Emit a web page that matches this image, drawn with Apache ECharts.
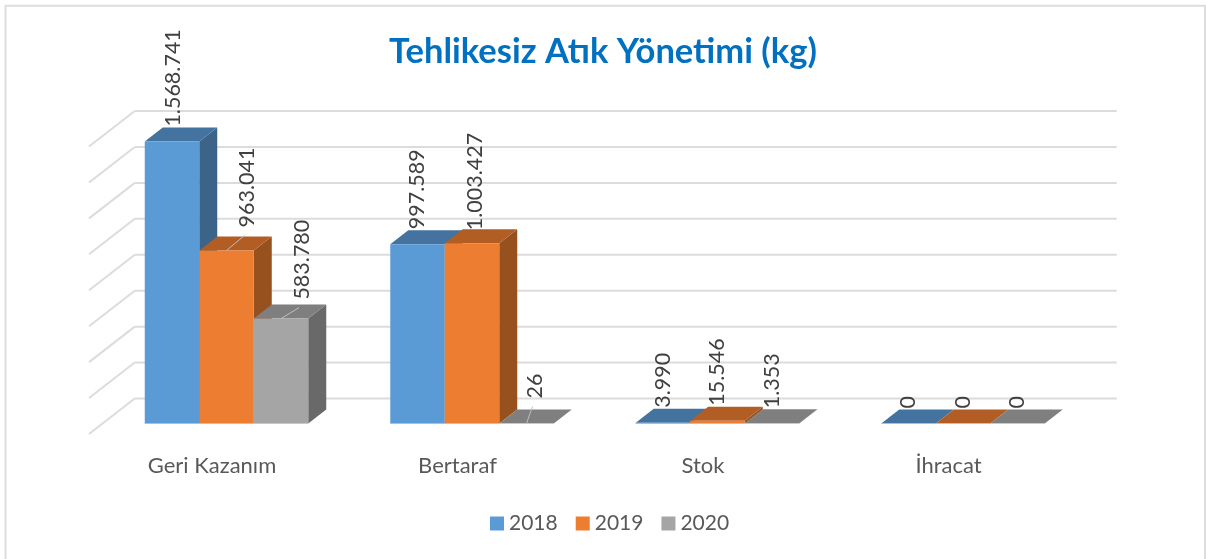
<!DOCTYPE html>
<html><head><meta charset="utf-8">
<style>html,body{margin:0;padding:0;background:#fff}#c{width:1206px;height:559px}</style>
<script src="https://cdn.jsdelivr.net/npm/echarts@6/dist/echarts.min.js"></script>
</head><body><div id="c"></div>
<script>
const categories = ['Geri Kazanım', 'Bertaraf', 'Stok', 'İhracat'];
const years = ['2018', '2019', '2020'];
const values2018 = [1568741, 997589, 3990, 0];
const values2019 = [963041, 1003427, 15546, 0];
const values2020 = [583780, 26, 1353, 0];
const axisTicks = [0, 200000, 400000, 600000, 800000, 1000000, 1200000, 1400000, 1600000];

// Styling and layout, kept apart from the data
const FONT = 'Lato, sans-serif';
const faces = [
  {front: '#5B9BD5', top: '#44739F', side: '#3C6489', edge: '#9DC3E6'},
  {front: '#ED7D31', top: '#B15D24', side: '#97511F', edge: '#F4B183'},
  {front: '#A5A5A5', top: '#7F7F7F', side: '#696969', edge: '#C9C9C9'}
];
const BAR_SHARE = 54.5 / 245.5;      // bar width as share of a category band
const DEPTH = [18, -14];             // bar depth projection
const WALL = [31, -25];              // back wall offset from the front plane
const FLOOR_FRONT = [-14.7, 10.5];   // front end of the diagonal lines
// [dx, dy, leader] of each label relative to the bar's front-top centre
const labelNudge = {
  '0-0': [1, -15], '1-0': [21, -23, 1], '2-0': [21, -19, 1],
  '1-1': [3, -13], '2-1': [9, -25, 1]
};
const DEFAULT_NUDGE = [0, -15];

const fmt = v => String(v).replace(/\B(?=(\d{3})+$)/g, '.');
const poly = (pts, fill, extra) => Object.assign({type: 'polygon', shape: {points: pts}, style: {fill: fill}}, extra || {});

function barSeries(name, idx, values) {
  return {
    type: 'custom', name: name, coordinateSystem: 'cartesian2d', clip: false, z: 3 + idx,
    itemStyle: {color: faces[idx].front},
    encode: {x: 0, y: 1},
    data: values.map((v, i) => [i, v]),
    renderItem: function (params, api) {
      const band = api.size([1, 0])[0];
      const w = band * BAR_SHARE;
      const top = api.coord([api.value(0), api.value(1)]);
      const base = api.coord([api.value(0), 0]);
      const x0 = base[0] + (idx - 1.5) * w, x1 = x0 + w;
      const yt = top[1], yb = base[1];
      const [dx, dy] = DEPTH;
      const f = faces[idx];
      const children = [
        poly([[x1, yb], [x1 + dx, yb + dy], [x1 + dx, yt + dy], [x1, yt]], f.side),
        poly([[x0, yt], [x1, yt], [x1 + dx, yt + dy], [x0 + dx, yt + dy]], f.top),
        {type: 'rect', shape: {x: x0, y: yt, width: w, height: yb - yt}, style: {fill: f.front}},
        {type: 'line', shape: {x1: x0, y1: yb, x2: x1, y2: yb}, style: {stroke: f.edge, lineWidth: 1}}
      ];
      const n = labelNudge[idx + '-' + api.value(0)] || DEFAULT_NUDGE;
      const cx = (x0 + x1) / 2;
      if (n[2]) {
        children.push({type: 'line', shape: {x1: cx, y1: yt, x2: cx + n[0] - 3, y2: yt + n[1] + 8},
          style: {stroke: '#BFBFBF', lineWidth: 1}});
      }
      return {type: 'group', children: children};
    }
  };
}
function labelSeries(name, idx, values) {
  return {
    type: 'custom', name: name + ' etiket', coordinateSystem: 'cartesian2d', clip: false, z: 10, silent: true,
    encode: {x: 0, y: 1},
    data: values.map((v, i) => [i, v]),
    renderItem: function (params, api) {
      const band = api.size([1, 0])[0];
      const w = band * BAR_SHARE;
      const top = api.coord([api.value(0), api.value(1)]);
      const n = labelNudge[idx + '-' + api.value(0)] || DEFAULT_NUDGE;
      const cx = top[0] + (idx - 1) * w;
      return {
        type: 'text', x: cx + n[0], y: top[1] + n[1], rotation: Math.PI / 2,
        style: {text: fmt(api.value(1)), fill: '#404040', font: '21.5px ' + FONT, textAlign: 'left', textVerticalAlign: 'middle'}
      };
    }
  };
}
const wallSeries = {
  type: 'custom', name: 'wall', coordinateSystem: 'cartesian2d', clip: false, z: 1, silent: true,
  encode: {x: 0, y: 1},
  data: axisTicks.map(t => [0, t]),
  renderItem: function (params, api) {
    const sys = params.coordSys;
    const y = api.coord([0, api.value(1)])[1];
    const st = {stroke: '#DCDCDC', lineWidth: 2};
    const bx = sys.x + WALL[0], by = y + WALL[1];
    return {type: 'group', children: [
      {type: 'line', shape: {x1: sys.x + FLOOR_FRONT[0], y1: y + FLOOR_FRONT[1], x2: bx, y2: by}, style: st},
      {type: 'line', shape: {x1: bx, y1: by, x2: sys.x + sys.width + WALL[0], y2: by}, style: st}
    ]};
  }
};

const chart = echarts.init(document.getElementById('c'), null, {renderer: 'canvas'});
const sets = [values2018, values2019, values2020];
chart.setOption({
  animation: false,
  backgroundColor: '#fff',
  title: {
    text: 'Tehlikesiz Atık Yönetimi (kg)', left: 'center', top: 29,
    textStyle: {fontFamily: FONT, fontSize: 34.5, fontWeight: 'bold', color: '#0070C0'}
  },
  legend: {
    data: years, left: 485, top: 508, itemWidth: 14, itemHeight: 14, itemGap: 18, icon: 'rect',
    textStyle: {fontFamily: FONT, fontSize: 21, color: '#595959'}
  },
  grid: {left: 103.75, right: 120.25, top: 136, bottom: 135.5},
  xAxis: {
    type: 'category', data: categories,
    axisLine: {show: false}, axisTick: {show: false}, splitLine: {show: false},
    axisLabel: {fontFamily: FONT, fontSize: 22, color: '#595959', margin: 31, padding: [0, 29, 0, 0], interval: 0}
  },
  yAxis: {type: 'value', min: 0, max: 1600000, interval: 200000, show: false},
  graphic: [{type: 'polyline', silent: true, z: -1, shape: {points: [[5.5, 559], [5.5, 5.7], [1205, 5.7], [1205, 559]]},
    style: {fill: 'none', stroke: '#DDDDDD', lineWidth: 2}}],
  series: [wallSeries]
    .concat(years.map((y, i) => barSeries(y, i, sets[i])))
    .concat(years.map((y, i) => labelSeries(y, i, sets[i])))
});
</script></body></html>
